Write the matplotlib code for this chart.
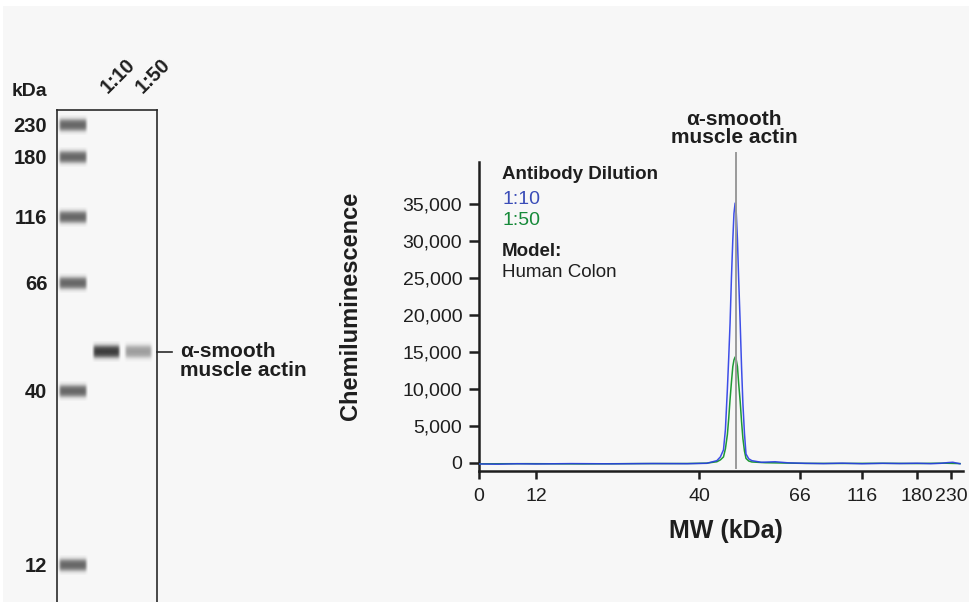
import numpy as np
import matplotlib
matplotlib.use("Agg")
import matplotlib.pyplot as plt
from matplotlib.patches import Rectangle

plt.rcParams['font.family'] = ['Liberation Sans', 'DejaVu Sans']

W, H = 970, 602

# gel ladder (kDa) and where each band sits in the lane (px from top of gel box)
LADDER_MW = [230, 180, 116, 66, 40, 12]
LADDER_POS = [15, 47, 107, 173, 281, 455]

# target band, one per dilution lane
TARGET_MW = 49.4
LANES = ["1:10", "1:50"]
LANE_STRENGTH = [0.95, 0.45]

# electropherogram x axis: MW ticks and their mobility position (px)
MW_TICKS = [0, 12, 40, 66, 116, 180, 230]
AX_MW = [0, 12, 40, 66, 116, 180, 230, 250]
AX_POS = [0, 57, 220, 321, 383, 438, 472, 484]

# traces
BLUE_MW = [0, 4, 8, 12, 18, 25, 32, 38, 42, 44.6, 45.5, 46.3, 46.8, 47.3, 47.65,
           48.0, 48.35, 48.7, 49.0, 49.3, 49.6, 49.9, 50.2, 50.6, 50.95, 51.3,
           51.7, 52.1, 52.8, 53.6, 56, 59.6, 63, 70, 85, 100, 116, 140, 160,
           180, 200, 215, 226, 233, 245]
BLUE_Y = [-150, -180, -120, -150, -100, -130, -90, -110, -60, 300, 800, 1750,
          4500, 9900, 14200, 18900, 25000, 30100, 33700, 35100, 33700, 30100,
          25000, 18900, 13000, 8000, 4000, 1200, 550, 300, 80, 150, 0, -60,
          -100, -40, -120, -60, -90, -50, -110, -60, 40, 80, -120]
GREEN_MW = [0, 10, 20, 30, 38, 42, 44.6, 45.5, 46.3, 46.8, 47.3, 47.65, 48.0,
            48.35, 48.7, 49.0, 49.3, 49.6, 49.9, 50.2, 50.6, 50.95, 51.3, 51.7,
            52.1, 52.8, 53.6, 57, 70, 100, 140, 180, 220, 245]
GREEN_Y = [-130, -110, -140, -100, -90, -40, 150, 400, 800, 1900, 3800, 6000,
           8600, 10900, 13000, 13900, 14300, 13900, 13000, 10800, 8300, 5600,
           3300, 1600, 600, 250, 120, 20, -70, -80, -60, -90, -40, -100]

BLUE = "#2a3ce6"
GREEN = "#1f9a35"
TXT = "#1e1e1e"
BG = "#f7f7f7"


def fx(x):
    return x / W


def fy(y):
    return 1 - y / H


def gel_pos(mw):
    # ladder positions go down as MW goes down
    return np.interp(-np.asarray(mw, float), [-m for m in LADDER_MW], LADDER_POS)


def draw_band(ax, x0, x1, y, color, strength, half_h=10):
    # soft edged band like a capillary gel image
    ys = np.linspace(-half_h, half_h, 41)
    xs = np.linspace(x0, x1, 60)
    ay = 1 / (1 + np.exp((np.abs(ys) - 5.5) / 1.4))
    cx = (x0 + x1) / 2
    hw = (x1 - x0) / 2
    ax_ = 1 / (1 + np.exp((np.abs(xs - cx) - (hw - 1.5)) / 0.7))
    alpha = np.outer(ay, ax_) * strength
    rgba = np.zeros(alpha.shape + (4,))
    rgba[..., :3] = matplotlib.colors.to_rgb(color)
    rgba[..., 3] = alpha
    ax.imshow(rgba, extent=[x0, x1, y + half_h, y - half_h], aspect='auto',
              interpolation='bilinear', zorder=2)


fig = plt.figure(figsize=(W / 100, H / 100), dpi=100, facecolor="white")
fig.patches.append(Rectangle((fx(3), 0), 1, fy(6), transform=fig.transFigure,
                             facecolor=BG, edgecolor="none", zorder=-10))

# ---------------- gel lane ----------------
gel = fig.add_axes([fx(57), 0, fx(100), 1 - (110 / H)])
gel.set_facecolor(BG)
gel.set_xlim(0, 100)
gel.set_ylim(H - 110, 0)
for s in ["left", "top", "right"]:
    gel.spines[s].set_linewidth(1.2)
    gel.spines[s].set_color("#2a2a2a")
gel.spines["bottom"].set_visible(False)
gel.set_xticks([])
gel.set_yticks(gel_pos(LADDER_MW))
gel.set_yticklabels([str(m) for m in LADDER_MW], fontsize=14.5, fontweight="bold", color=TXT)
gel.tick_params(axis="y", length=0, pad=7)

for m in LADDER_MW:
    draw_band(gel, 1, 31, gel_pos(m), "#4a4a4a", 0.85)
lane_x = [(35, 64), (67, 96)]
for (x0, x1), st in zip(lane_x, LANE_STRENGTH):
    draw_band(gel, x0, x1, gel_pos(TARGET_MW), "#2e2e2e", st)

fig.text(fx(47), fy(91), "kDa", ha="right", va="center", fontsize=14,
         fontweight="bold", color=TXT)
for lab, xs in zip(LANES, [111, 146]):
    fig.text(fx(xs), fy(97), lab, ha="left", va="bottom", rotation=45,
             rotation_mode="anchor", fontsize=14.5, fontweight="bold", color=TXT)

band_y = gel_pos(TARGET_MW)
gel.plot([100, 115], [band_y, band_y], color="#2a2a2a", lw=1.2, clip_on=False)
gel.text(123, band_y - 10, "\u03b1-smooth\nmuscle actin", ha="left", va="top",
         fontsize=15, fontweight="bold", color=TXT, linespacing=1.0,
         clip_on=False)

# ---------------- electropherogram ----------------
ax = fig.add_axes([fx(479), 131 / H, fx(484), 309 / H])
ax.set_facecolor("none")
ax.set_xscale("function", functions=(lambda m: np.interp(m, AX_MW, AX_POS),
                                     lambda p: np.interp(p, AX_POS, AX_MW)))
ax.set_xlim(0, 250)
ax.set_ylim(-1100, 40650)

ax.plot(GREEN_MW, GREEN_Y, color=GREEN, lw=1.1, zorder=3)
ax.plot(BLUE_MW, BLUE_Y, color=BLUE, lw=1.1, alpha=0.9, zorder=4)
ax.plot([TARGET_MW, TARGET_MW], [-700, 41900], color="#9a9a9a", lw=1.4,
        zorder=5, clip_on=False)

for s in ["top", "right"]:
    ax.spines[s].set_visible(False)
for s in ["left", "bottom"]:
    ax.spines[s].set_linewidth(1.8)
    ax.spines[s].set_color("#1e1e1e")

yt = list(range(0, 35001, 5000))
ax.set_yticks(yt)
ax.set_yticklabels([f"{v:,}" for v in yt], fontsize=14, color=TXT)
ax.set_xticks(MW_TICKS)
ax.set_xticklabels([str(m) for m in MW_TICKS], fontsize=14, color=TXT)
ax.xaxis.set_minor_locator(matplotlib.ticker.NullLocator())
ax.tick_params(axis="y", length=7, width=1.8, color="#1e1e1e", pad=5)
ax.tick_params(axis="x", length=6, width=1.8, color="#1e1e1e", pad=6)

ax.set_ylabel("Chemiluminescence", fontsize=17, fontweight="bold", color=TXT)
ax.yaxis.set_label_coords(-0.242, 0.534)
ax.set_xlabel("MW (kDa)", fontsize=18, fontweight="bold", color=TXT)
ax.xaxis.set_label_coords(0.51, -0.155)

# legend block
fig.text(fx(502), fy(179), "Antibody Dilution", fontsize=13.5, fontweight="bold",
         color=TXT, va="baseline")
fig.text(fx(502), fy(204), "1:10", fontsize=14, color="#3b4db8", va="baseline")
fig.text(fx(502), fy(225), "1:50", fontsize=14, color="#178a3a", va="baseline")
fig.text(fx(502), fy(256), "Model:", fontsize=13.5, fontweight="bold", color=TXT,
         va="baseline")
fig.text(fx(502), fy(277), "Human Colon", fontsize=13.5, color=TXT, va="baseline")

fig.text(fx(734), fy(147), "\u03b1-smooth\nmuscle actin", ha="center", va="bottom",
         fontsize=15, fontweight="bold", color=TXT, linespacing=0.95)

fig.savefig("out.png", dpi=100, facecolor=fig.get_facecolor())
